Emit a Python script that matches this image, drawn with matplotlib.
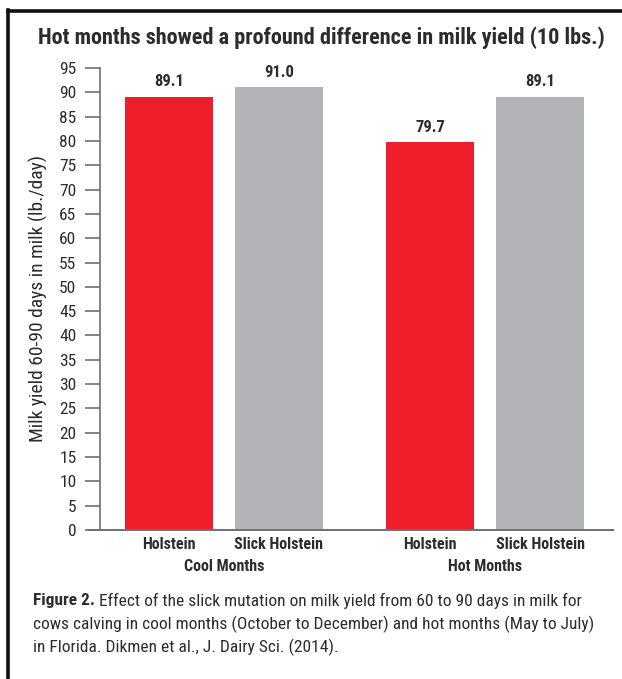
import matplotlib
matplotlib.use("Agg")
import matplotlib.pyplot as plt
from matplotlib import font_manager
from matplotlib.lines import Line2D

# ---- data -------------------------------------------------------------
groups = ["Cool Months", "Hot Months"]
breeds = ["Holstein", "Slick Holstein"]
cool_values = [89.1, 91.0]
hot_values = [79.7, 89.1]
value_labels = ["89.1", "91.0", "79.7", "89.1"]
y_ticks = list(range(0, 100, 5))

title = "Hot months showed a profound difference in milk yield (10 lbs.)"
y_label = "Milk yield 60-90 days in milk (lb./day)"
caption_bold = "Figure 2."
caption_lines = [
    " Effect of the slick mutation on milk yield from 60 to 90 days in milk for",
    "cows calving in cool months (October to December) and hot months (May to July)",
    "in Florida. Dikmen et al., J. Dairy Sci. (2014).",
]

# ---- font: prefer a narrow / condensed sans ---------------------------
fonts = font_manager.fontManager.ttflist
names = {f.name for f in fonts}
family = "DejaVu Sans"
stretch = "normal"
for cand in ["Roboto Condensed", "Liberation Sans Narrow", "Open Sans Condensed",
             "Noto Sans Condensed", "DejaVu Sans Condensed"]:
    if cand in names:
        family = cand
        break
else:
    if any(f.name == "DejaVu Sans" and f.stretch in ("condensed", "semi-condensed")
           for f in fonts):
        stretch = "condensed"

plt.rcParams["font.family"] = [family, "DejaVu Sans"]
plt.rcParams["font.stretch"] = stretch

TEXT = "#2c2c30"
RED = "#ee1f2b"
GRAY = "#b2b3b6"
AXIS = "#707070"

W, H = 622, 679
fig = plt.figure(figsize=(W / 100, H / 100), dpi=100)
fig.patch.set_facecolor("white")

# axes box in pixel coordinates
left, right, bottom, top = 100, 613, 530, 68
ax = fig.add_axes([left / W, 1 - bottom / H, (right - left) / W, (bottom - top) / H])

# bar positions
step = 1.0
group_gap = 2.38
width = 0.80
positions = [0, step, group_gap, group_gap + step]
values = cool_values + hot_values
colors = [RED, GRAY, RED, GRAY]

ax.bar(positions, values, width=width, color=colors, zorder=2)

for x, v, lab in zip(positions, values, value_labels):
    ax.text(x, v + 1.6, lab, ha="center", va="bottom", fontsize=12,
            fontweight="bold", color=TEXT)

ax.set_xlim(-0.629, 4.045)
ax.set_ylim(0, 95)
ax.set_yticks(y_ticks)
ax.set_yticklabels([str(t) for t in y_ticks], fontsize=12.5, color=TEXT)
ax.tick_params(axis="y", length=11, width=1.2, color=AXIS, pad=6)

ax.set_xticks(positions)
ax.set_xticklabels(breeds * 2, fontsize=11.5, fontweight="bold", color=TEXT)
ax.tick_params(axis="x", length=0, pad=5)

for s in ["top", "right"]:
    ax.spines[s].set_visible(False)
ax.spines["left"].set_color(AXIS)
ax.spines["left"].set_linewidth(1.2)
ax.spines["bottom"].set_visible(False)

# baseline running from the 0 tick across the plot
ax.add_line(Line2D([(89 - left) / (right - left), 1.0], [0, 0],
                   transform=ax.transAxes, color=AXIS, lw=1.4,
                   clip_on=False, zorder=3))

# group labels
for i, g in enumerate(groups):
    cx = (positions[2 * i] + positions[2 * i + 1]) / 2
    ax.text(cx, -0.078, g, transform=ax.get_xaxis_transform(), ha="center",
            va="center", fontsize=11.5, fontweight="bold", color=TEXT)

ax.set_ylabel(y_label, fontsize=14, color=TEXT, labelpad=8)

# title
fig.text(321 / W, 1 - 38 / H, title, ha="center", va="center",
         fontsize=16, fontweight="bold", color=TEXT)

# caption
cap_x = 33 / W
cap_y = [601, 624, 647]
cap_size = 12.5
t0 = fig.text(cap_x, 1 - cap_y[0] / H, caption_bold, ha="left", va="center",
              fontsize=cap_size, fontweight="bold", color=TEXT)
fig.canvas.draw()
bb = t0.get_window_extent()
fig.text(bb.x1 / W, 1 - cap_y[0] / H, caption_lines[0],
         ha="left", va="center", fontsize=cap_size, color=TEXT)
for y, line in zip(cap_y[1:], caption_lines[1:]):
    fig.text(cap_x, 1 - y / H, line, ha="left", va="center", fontsize=cap_size, color=TEXT)

# frame: top rule and left rule
fig.add_artist(Line2D([8 / W, 1.0], [1 - 11 / H, 1 - 11 / H], transform=fig.transFigure,
                      color="#111111", lw=2.6))
fig.add_artist(Line2D([8 / W, 8 / W], [1 - 10 / H, 0], transform=fig.transFigure,
                      color="#111111", lw=2.6))

fig.savefig("out.png", dpi=100, facecolor="white")
